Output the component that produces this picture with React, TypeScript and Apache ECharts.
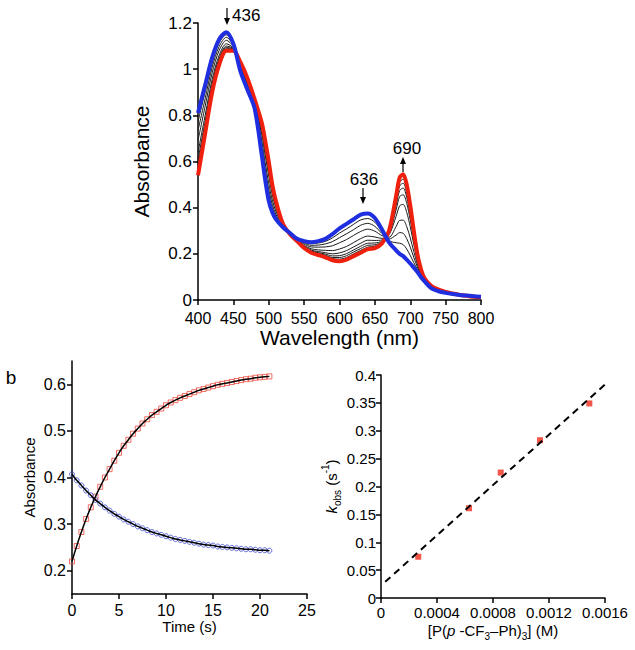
import React, { useEffect, useRef } from "react";
import * as echarts from "echarts";

// ---------- Panel a: UV-vis spectra ----------
const wavelengths = [400,410,420,430,440,450,460,470,480,490,495,500,505,510,520,530,540,550,560,570,580,590,600,610,620,630,640,650,660,670,680,685,690,695,700,705,710,715,720,730,740,750,760,770,780,790,800];
const specInitial = [0.81,0.93,1.05,1.13,1.16,1.11,0.99,0.91,0.83,0.63,0.52,0.43,0.38,0.35,0.315,0.29,0.265,0.255,0.25,0.255,0.265,0.285,0.31,0.33,0.35,0.37,0.375,0.355,0.305,0.25,0.215,0.2,0.19,0.175,0.158,0.14,0.122,0.1,0.082,0.05,0.038,0.031,0.026,0.022,0.019,0.016,0.014];
const specFinal = [0.54,0.72,0.9,1.02,1.08,1.08,1.03,0.96,0.87,0.77,0.69,0.6,0.5,0.43,0.33,0.285,0.255,0.225,0.205,0.195,0.185,0.172,0.168,0.175,0.19,0.205,0.22,0.225,0.245,0.3,0.45,0.53,0.545,0.5,0.41,0.3,0.2,0.135,0.095,0.06,0.045,0.035,0.028,0.022,0.018,0.014,0.012];
const specMid1 = [0.772,0.901,1.029,1.115,1.149,1.106,0.996,0.917,0.836,0.650,0.544,0.454,0.397,0.361,0.317,0.289,0.264,0.251,0.244,0.247,0.254,0.269,0.290,0.308,0.328,0.347,0.353,0.337,0.297,0.257,0.248,0.246,0.240,0.221,0.193,0.162,0.133,0.105,0.084,0.051,0.039,0.032,0.026,0.022,0.019,0.016,0.014];
const specMid2 = [0.734,0.871,1.008,1.099,1.138,1.102,1.001,0.924,0.841,0.669,0.568,0.478,0.414,0.372,0.319,0.289,0.262,0.247,0.237,0.238,0.243,0.253,0.270,0.287,0.305,0.324,0.332,0.319,0.288,0.264,0.281,0.292,0.289,0.266,0.229,0.185,0.144,0.110,0.086,0.053,0.040,0.032,0.027,0.022,0.019,0.016,0.013];
const specMid3 = [0.691,0.838,0.984,1.082,1.125,1.097,1.008,0.932,0.848,0.692,0.595,0.505,0.433,0.385,0.322,0.288,0.261,0.242,0.230,0.229,0.230,0.235,0.248,0.262,0.280,0.297,0.307,0.298,0.279,0.272,0.318,0.345,0.346,0.318,0.269,0.210,0.156,0.115,0.088,0.054,0.041,0.033,0.027,0.022,0.019,0.015,0.013];
const specMid4 = [0.640,0.798,0.956,1.061,1.110,1.091,1.015,0.942,0.855,0.718,0.627,0.537,0.456,0.400,0.324,0.287,0.259,0.236,0.222,0.217,0.215,0.214,0.221,0.232,0.249,0.266,0.277,0.273,0.267,0.282,0.363,0.408,0.414,0.380,0.317,0.241,0.171,0.122,0.090,0.056,0.042,0.034,0.027,0.022,0.018,0.015,0.013];
const specMid5 = [0.608,0.773,0.938,1.048,1.100,1.088,1.020,0.948,0.860,0.735,0.648,0.558,0.470,0.410,0.326,0.286,0.258,0.233,0.216,0.210,0.205,0.200,0.204,0.214,0.230,0.246,0.259,0.258,0.260,0.288,0.391,0.448,0.456,0.419,0.347,0.260,0.181,0.126,0.092,0.058,0.043,0.034,0.028,0.022,0.018,0.015,0.013];
const specMid6 = [0.586,0.756,0.926,1.039,1.094,1.085,1.023,0.952,0.863,0.746,0.661,0.571,0.480,0.416,0.327,0.286,0.257,0.230,0.213,0.205,0.199,0.191,0.192,0.201,0.217,0.233,0.246,0.247,0.255,0.292,0.410,0.474,0.485,0.445,0.367,0.273,0.187,0.129,0.093,0.058,0.044,0.034,0.028,0.022,0.018,0.014,0.012];
const specMid7 = [0.570,0.743,0.917,1.032,1.089,1.083,1.026,0.955,0.866,0.755,0.671,0.581,0.487,0.421,0.328,0.286,0.256,0.228,0.210,0.202,0.194,0.184,0.184,0.192,0.208,0.223,0.237,0.239,0.252,0.295,0.424,0.494,0.506,0.464,0.382,0.282,0.191,0.131,0.094,0.059,0.044,0.035,0.028,0.022,0.018,0.014,0.012];
const specMid8 = [0.556,0.733,0.909,1.027,1.085,1.082,1.028,0.957,0.868,0.762,0.680,0.590,0.493,0.425,0.329,0.285,0.256,0.227,0.208,0.199,0.190,0.179,0.177,0.184,0.200,0.215,0.229,0.233,0.249,0.297,0.436,0.510,0.524,0.481,0.395,0.290,0.195,0.133,0.094,0.059,0.045,0.035,0.028,0.022,0.018,0.014,0.012];
const specMids = [specMid1, specMid2, specMid3, specMid4, specMid5, specMid6, specMid7, specMid8];

// ---------- Panel b left: kinetic traces ----------
const timeS = [0,0.5,1,1.5,2,2.5,3,3.5,4,4.5,5,5.5,6,6.5,7,7.5,8,8.5,9,9.5,10,10.5,11,11.5,12,12.5,13,13.5,14,14.5,15,15.5,16,16.5,17,17.5,18,18.5,19,19.5,20,20.5,21];
const abs690 = [0.220,0.253,0.283,0.311,0.336,0.359,0.380,0.400,0.418,0.436,0.453,0.468,0.481,0.494,0.505,0.516,0.525,0.534,0.541,0.548,0.555,0.561,0.566,0.571,0.575,0.579,0.583,0.587,0.590,0.593,0.596,0.599,0.601,0.603,0.605,0.607,0.609,0.611,0.612,0.614,0.615,0.616,0.617];
const abs636 = [0.407,0.394,0.383,0.372,0.362,0.352,0.344,0.336,0.329,0.322,0.316,0.310,0.305,0.300,0.295,0.291,0.287,0.283,0.280,0.277,0.274,0.271,0.268,0.266,0.264,0.262,0.260,0.258,0.256,0.255,0.254,0.252,0.251,0.250,0.249,0.248,0.247,0.246,0.246,0.245,0.244,0.244,0.243];
const kinTicks = [0.2, 0.3, 0.4, 0.5, 0.6];

// ---------- Panel b right: kobs vs [P] ----------
const concP = [0.000266, 0.000629, 0.000855, 0.001136, 0.001488];
const kobs = [0.074, 0.161, 0.225, 0.283, 0.349];
const fitX = [0.00003, 0.0016];
const fitY = [0.029, 0.383];

const FONT = "'Liberation Sans', Arial, Helvetica, sans-serif";
const BLUE = "#1f2fe0";
const RED = "#f0200f";

const pairs = (xs: number[], ys: number[]) => xs.map((x, i) => [x, ys[i]]);

const axisBase = () => ({
  axisLine: { show: true, onZero: false, lineStyle: { color: "#000", width: 1.5 } },
  axisTick: { show: true, length: 5, lineStyle: { color: "#000", width: 1.5 } },
  splitLine: { show: false },
});

export default function App() {
  const ref = useRef<HTMLDivElement>(null);
  useEffect(() => {
    if (!ref.current) return;
    const chart = echarts.init(ref.current, undefined, { renderer: "svg" });
    const richTitle = {
      n: { fontSize: 15, fontFamily: FONT, color: "#000", lineHeight: 22 },
      i: { fontSize: 15, fontFamily: FONT, fontStyle: "italic", color: "#000", lineHeight: 22 },
      sub: { fontSize: 10, fontFamily: FONT, color: "#000", verticalAlign: "bottom", lineHeight: 10 },
      sup: { fontSize: 10, fontFamily: FONT, color: "#000", verticalAlign: "top", lineHeight: 10 },
    };
    const txt = { color: "#000", fontFamily: FONT };
    const option: any = {
      animation: false,
      backgroundColor: "#fff",
      grid: [
        { left: 198, top: 23, width: 283, height: 277 },
        { left: 72, top: 361, width: 235, height: 233 },
        { left: 381, top: 375, width: 224, height: 223 },
      ],
      xAxis: [
        {
          gridIndex: 0, type: "value", min: 400, max: 800, interval: 50,
          name: "Wavelength (nm)", nameLocation: "middle", nameGap: 25,
          ...axisBase(),
          axisLabel: { ...txt, fontSize: 16, margin: 10 },
          nameTextStyle: { ...txt, fontSize: 21 },
        },
        {
          gridIndex: 1, type: "value", min: 0, max: 25, interval: 5,
          name: "Time (s)", nameLocation: "middle", nameGap: 25,
          ...axisBase(),
          axisLabel: { ...txt, fontSize: 16, margin: 8 },
          nameTextStyle: { ...txt, fontSize: 15 },
        },
        {
          gridIndex: 2, type: "value", min: 0, max: 0.0016, interval: 0.0004,
          name: "{n|[P(}{i|p}{n| -CF}{sub|3}{n|–Ph)}{sub|3}{n|] (M)}",
          nameLocation: "middle", nameGap: 21,
          ...axisBase(),
          axisLabel: { ...txt, fontSize: 15, margin: 7 },
          nameTextStyle: { ...txt, fontSize: 15, rich: richTitle },
        },
      ],
      yAxis: [
        {
          gridIndex: 0, type: "value", min: 0, max: 1.2, interval: 0.2,
          name: "Absorbance", nameLocation: "middle", nameGap: 46,
          ...axisBase(),
          axisLabel: { ...txt, fontSize: 17, margin: 6 },
          nameTextStyle: { ...txt, fontSize: 21 },
        },
        {
          gridIndex: 1, type: "value", min: 0.15, max: 0.65,
          name: "Absorbance", nameLocation: "middle", nameGap: 35,
          ...axisBase(),
          axisTick: { show: true, length: 5, lineStyle: { color: "#000", width: 1.5 }, customValues: kinTicks },
          axisLabel: { ...txt, fontSize: 16, margin: 6, customValues: kinTicks },
          nameTextStyle: { ...txt, fontSize: 15 },
        },
        {
          gridIndex: 2, type: "value", min: 0, max: 0.4, interval: 0.05,
          name: "{i|k}{sub|obs}{n| (s}{sup|-1}{n|)}",
          nameLocation: "middle", nameGap: 34,
          ...axisBase(),
          axisLabel: { ...txt, fontSize: 15, margin: 5 },
          nameTextStyle: { ...txt, fontSize: 15, rich: richTitle },
        },
      ],
      series: [
        ...specMids.map((arr) => ({
          type: "line", xAxisIndex: 0, yAxisIndex: 0, data: pairs(wavelengths, arr),
          smooth: 0.3, showSymbol: false, silent: true,
          lineStyle: { color: "#1a1a1a", width: 1 },
        })),
        {
          type: "line", xAxisIndex: 0, yAxisIndex: 0, data: pairs(wavelengths, specFinal),
          smooth: 0.3, showSymbol: false, lineStyle: { color: RED, width: 4 },
        },
        {
          type: "line", xAxisIndex: 0, yAxisIndex: 0, data: pairs(wavelengths, specInitial),
          smooth: 0.3, showSymbol: false, lineStyle: { color: BLUE, width: 4 },
        },
        {
          type: "line", xAxisIndex: 1, yAxisIndex: 1, data: pairs(timeS, abs690),
          smooth: true, showSymbol: false, lineStyle: { color: "#000", width: 1.5 },
        },
        {
          type: "line", xAxisIndex: 1, yAxisIndex: 1, data: pairs(timeS, abs636),
          smooth: true, showSymbol: false, lineStyle: { color: "#000", width: 1.5 },
        },
        {
          type: "scatter", xAxisIndex: 1, yAxisIndex: 1, data: pairs(timeS, abs690),
          symbol: "rect", symbolSize: 5,
          itemStyle: { color: "rgba(0,0,0,0)", borderColor: "#ee4a3e", borderWidth: 1 },
        },
        {
          type: "scatter", xAxisIndex: 1, yAxisIndex: 1, data: pairs(timeS, abs636),
          symbol: "circle", symbolSize: 5,
          itemStyle: { color: "rgba(0,0,0,0)", borderColor: "#3a4ad0", borderWidth: 1 },
        },
        {
          type: "line", xAxisIndex: 2, yAxisIndex: 2, data: pairs(fitX, fitY),
          showSymbol: false, lineStyle: { color: "#000", width: 2, type: [7, 5] },
        },
        {
          type: "scatter", xAxisIndex: 2, yAxisIndex: 2, data: pairs(concP, kobs),
          symbol: "rect", symbolSize: 6, itemStyle: { color: "#f02a1a" },
        },
      ],
      graphic: [
        { type: "text", x: 11, y: 377, style: { text: "b", fontSize: 19, fontFamily: FONT, fill: "#000", align: "center", verticalAlign: "middle", textAlign: "center", textVerticalAlign: "middle" } },
        // 436 annotation
        { type: "line", shape: { x1: 227, y1: 8, x2: 227, y2: 22 }, style: { stroke: "#000", lineWidth: 1.2 } },
        { type: "polygon", shape: { points: [[224, 18], [230, 18], [227, 25]] }, style: { fill: "#000" } },
        { type: "text", x: 232, y: 15, style: { text: "436", fontSize: 17, fontFamily: FONT, fill: "#000", align: "left", verticalAlign: "middle", textAlign: "left", textVerticalAlign: "middle" } },
        // 636 annotation
        { type: "text", x: 364, y: 179, style: { text: "636", fontSize: 17, fontFamily: FONT, fill: "#000", align: "center", verticalAlign: "middle", textAlign: "center", textVerticalAlign: "middle" } },
        { type: "line", shape: { x1: 363, y1: 188, x2: 363, y2: 200 }, style: { stroke: "#000", lineWidth: 1.2 } },
        { type: "polygon", shape: { points: [[360, 197], [366, 197], [363, 204]] }, style: { fill: "#000" } },
        // 690 annotation
        { type: "text", x: 407, y: 148, style: { text: "690", fontSize: 17, fontFamily: FONT, fill: "#000", align: "center", verticalAlign: "middle", textAlign: "center", textVerticalAlign: "middle" } },
        { type: "line", shape: { x1: 403, y1: 161, x2: 403, y2: 172 }, style: { stroke: "#000", lineWidth: 1.2 } },
        { type: "polygon", shape: { points: [[400, 164], [406, 164], [403, 157]] }, style: { fill: "#000" } },
      ],
    };
    chart.setOption(option);
    return () => chart.dispose();
  }, []);
  return (
    <div
      ref={ref}
      style={{ position: "fixed", left: 0, top: 0, width: 635, height: 650, background: "#fff" }}
    />
  );
}
